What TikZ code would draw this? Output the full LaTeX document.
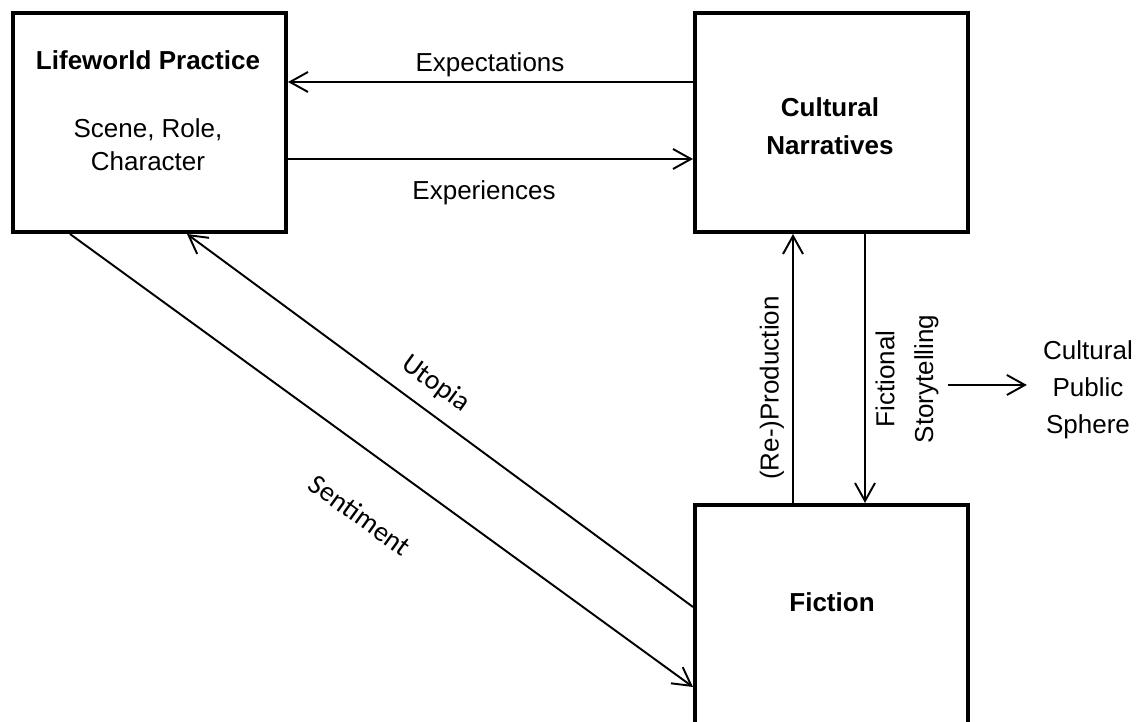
\documentclass[tikz,border=0pt]{standalone}
\usepackage{fontspec}
\setmainfont{Liberation Sans}
\newfontfamily\calibfont{Carlito}
\usetikzlibrary{arrows.meta,positioning}
\tikzset{
  panel/.style={draw=black,line width=2.3pt,fill=white,minimum width=5.46cm,minimum height=4.38cm,inner sep=0pt},
  flow/.style={-{Straight Barb[length=3.6mm,width=4mm]},line width=1.1pt},
  backflow/.style={{Straight Barb[length=3.6mm,width=4mm]}-,line width=1.1pt},
  txt/.style={font=\fontsize{14.8}{19}\selectfont,inner sep=0pt,align=center},
  head/.style={txt,font=\fontsize{14.8}{21.5}\selectfont\bfseries},
  slant/.style={inner sep=0pt,font=\calibfont\fontsize{16}{19}\selectfont,rotate=-36}
}

\begin{document}
\begin{tikzpicture}[x=1cm,y=1cm]
  \useasboundingbox (0,0) rectangle (22.78,14.44);

  % the three boxes
  \node[panel] (lw) at (2.99,11.99) {};
  \node[panel] (cn) at (16.63,11.99) {};
  \node[panel,minimum height=5.4cm] (fic) at (16.63,1.64) {};

  \node[head] (lwhead) at (2.96,13.24) {Lifeworld Practice};
  \node[txt] (lwbody) at (2.96,11.55) {Scene, Role,\\Character};
  \node[head] (cnhead) at (16.60,11.92) {Cultural\\Narratives};
  \node[head] (fichead) at (16.64,2.40) {Fiction};

  % top pair
  \draw[flow] ([yshift=8.1mm]cn.west) -- ([yshift=8.1mm]lw.east);
  \draw[flow] ([yshift=-7.3mm]lw.east) -- ([yshift=-7.3mm]cn.west);
  \node[txt] (expect) at (9.80,13.14) {Expectations};
  \node[txt] (exper) at (9.68,10.58) {Experiences};

  % diagonals
  \draw[backflow] ([xshift=7.5mm]lw.south) -- ([yshift=-20.8mm]fic.north west);
  \draw[flow] ([xshift=-15.9mm]lw.south) -- ([yshift=-36.8mm]fic.north west);
  \node[slant] (utopia) at (8.71,6.76) {Utopia};
  \node[slant] (senti) at (7.20,4.14) {Sentiment};

  % verticals
  \draw[flow] ([xshift=-7.7mm]fic.north) -- ([xshift=-7.7mm]cn.south);
  \draw[flow] ([xshift=6.7mm]cn.south) -- ([xshift=6.7mm]fic.north);
  \node[txt,rotate=90] (reprod) at (15.44,6.68) {(Re-)Production};
  \node[txt,rotate=90,font=\fontsize{14.8}{22}\selectfont] (story) at (18.14,6.86) {Fictional\\Storytelling};

  \node[txt,font=\fontsize{14.8}{21}\selectfont] (sphere) at (21.76,6.64) {Cultural\\Public\\Sphere};
  \draw[flow,shorten <=1.9mm,shorten >=3.2mm] (story.south |- 0,6.74) -- (sphere.west |- 0,6.74);
\end{tikzpicture}
\end{document}
